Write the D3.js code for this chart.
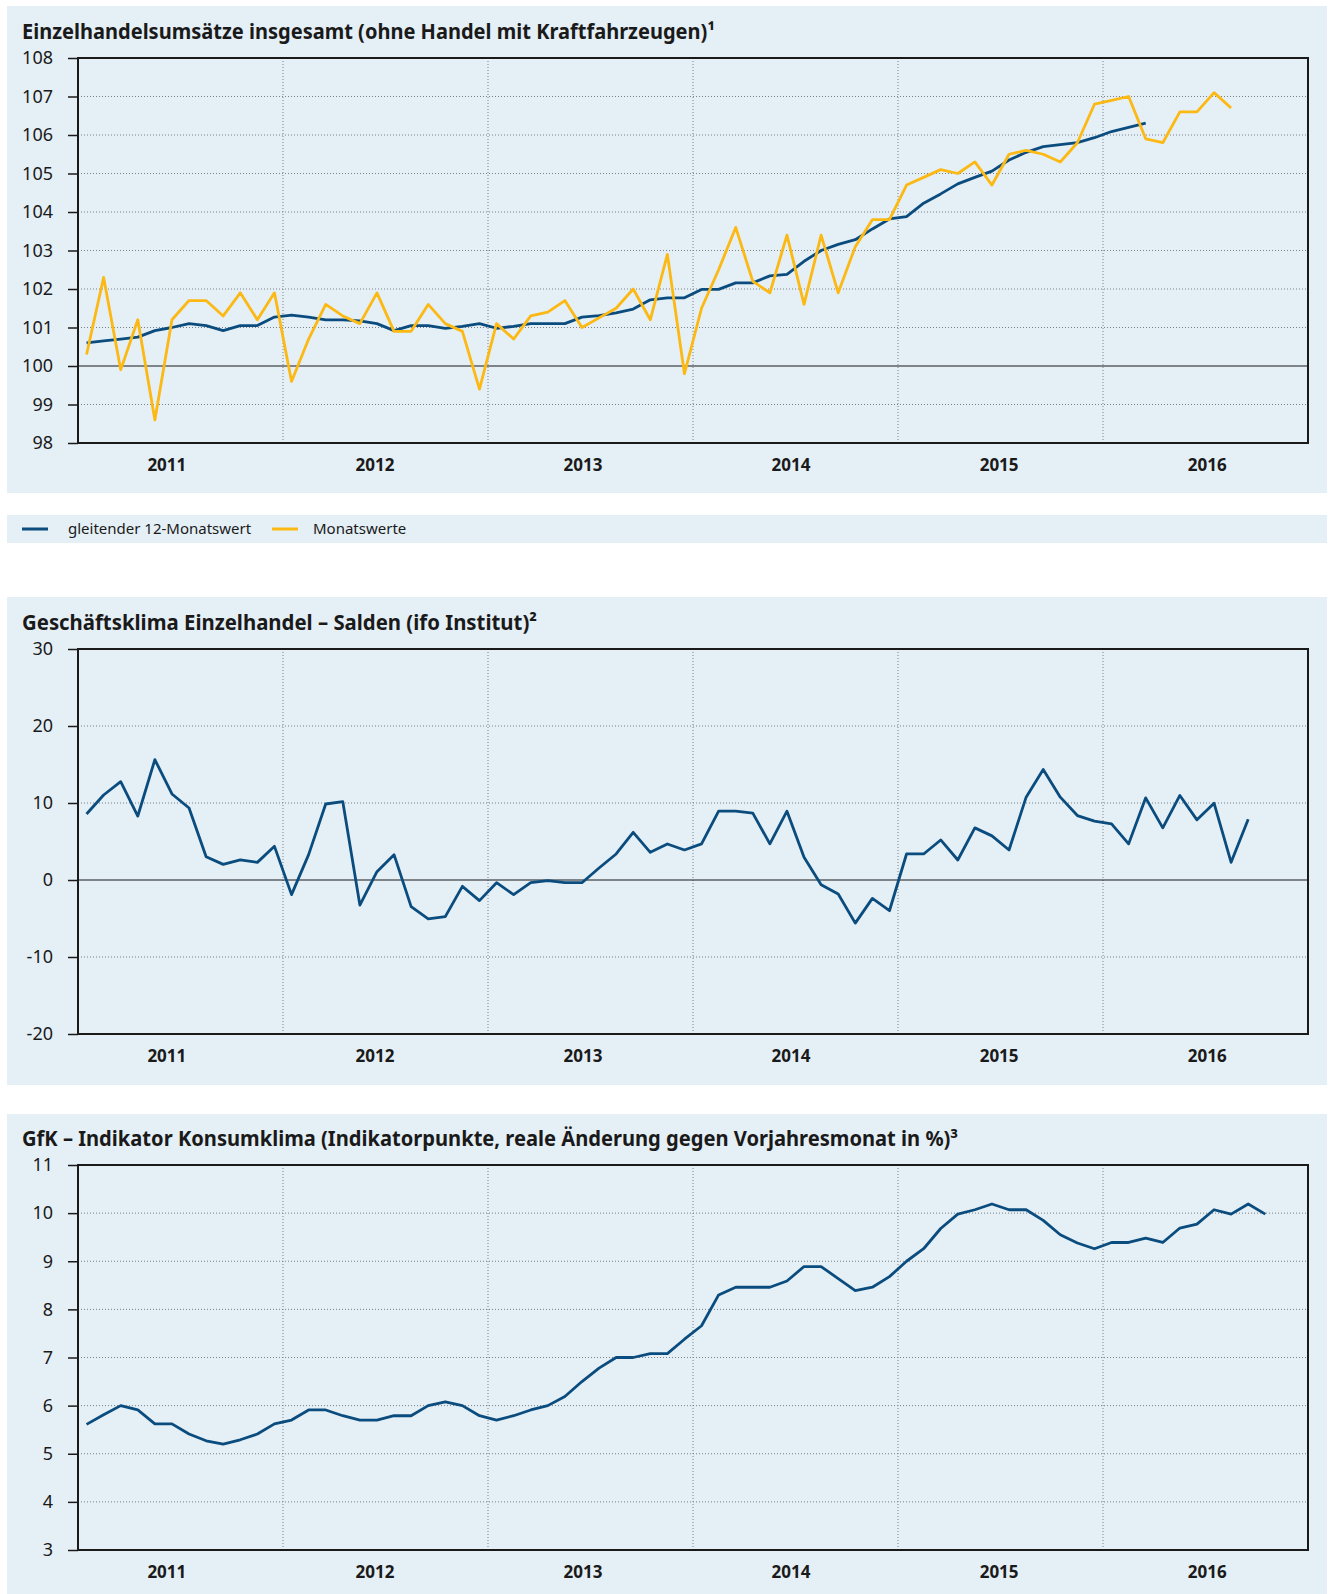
<!DOCTYPE html>
<html lang="de">
<head>
<meta charset="utf-8">
<title>Einzelhandel – Indikatoren</title>
<script src="https://cdn.jsdelivr.net/npm/d3@7"></script>
<style>
  body { margin: 0; background: #fff; }
  svg text { font-family: "Noto Sans", "Open Sans", sans-serif; fill: #1a1a1a; }
</style>
</head>
<body>
<svg id="chart" width="1334" height="1594"></svg>
<script>
// Jahre (x-Achse), je 12 Monate ab Januar 2011
const years = ['2011', '2012', '2013', '2014', '2015', '2016'];

// Einzelhandelsumsätze
const umsatzGleitend = [
  100.6, 100.65, 100.7, 100.75, 100.92, 101.0, 101.1, 101.05, 100.92, 101.05, 101.05, 101.27,
  101.32, 101.27, 101.2, 101.2, 101.17, 101.1, 100.92, 101.05, 101.05, 100.98, 101.03, 101.1,
  100.98, 101.03, 101.1, 101.1, 101.1, 101.27, 101.31, 101.38, 101.48, 101.72, 101.77, 101.77,
  101.99, 101.99, 102.16, 102.16, 102.34, 102.38, 102.72, 103.0, 103.16, 103.28, 103.56, 103.82,
  103.88, 104.23, 104.47, 104.73, 104.9, 105.06, 105.35, 105.55, 105.7, 105.75, 105.8, 105.93,
  106.09, 106.2, 106.31
];
const umsatzMonat = [
  100.3, 102.3, 99.9, 101.2, 98.6, 101.2, 101.7, 101.7, 101.3, 101.9, 101.2, 101.9,
  99.6, 100.7, 101.6, 101.3, 101.1, 101.9, 100.9, 100.9, 101.6, 101.1, 100.9, 99.4,
  101.1, 100.7, 101.3, 101.4, 101.7, 101.0, 101.25, 101.5, 102.0, 101.2, 102.9, 99.8,
  101.5, 102.5, 103.6, 102.2, 101.9, 103.4, 101.6, 103.4, 101.9, 103.1, 103.8, 103.8,
  104.7, 104.9, 105.1, 105.0, 105.3, 104.7, 105.5, 105.6, 105.5, 105.3, 105.8, 106.8,
  106.9, 107.0, 105.9, 105.8, 106.6, 106.6, 107.1, 106.7
];

// ifo Geschäftsklima Einzelhandel (Salden)
const ifoSalden = [
  8.57, 11.04, 12.77, 8.31, 15.63, 11.17, 9.35, 3.03, 2.03, 2.6, 2.29, 4.37,
  -1.9, 3.29, 9.87, 10.17, -3.25, 1.08, 3.29, -3.46, -5.06, -4.76, -0.82, -2.68,
  -0.35, -1.9, -0.35, -0.09, -0.35, -0.35, 1.56, 3.38, 6.19, 3.59, 4.68, 3.9,
  4.69, 8.94, 8.94, 8.68, 4.69, 8.94, 2.95, -0.61, -1.82, -5.6, -2.39, -3.99,
  3.38, 3.38, 5.2, 2.6, 6.77, 5.73, 3.9, 10.76, 14.36, 10.76, 8.37, 7.64,
  7.29, 4.69, 10.67, 6.77, 10.98, 7.81, 9.98, 2.3, 7.9
];

// GfK Konsumklima
const gfkKlima = [
  5.61, 5.81, 6.0, 5.91, 5.62, 5.62, 5.41, 5.27, 5.2, 5.29, 5.41, 5.62,
  5.7, 5.91, 5.91, 5.79, 5.7, 5.7, 5.79, 5.79, 6.0, 6.08, 6.0, 5.79,
  5.7, 5.79, 5.91, 6.0, 6.19, 6.5, 6.78, 7.0, 7.0, 7.08, 7.08, 7.38,
  7.66, 8.3, 8.46, 8.46, 8.46, 8.59, 8.89, 8.89, 8.64, 8.39, 8.46, 8.68,
  9.0, 9.26, 9.68, 9.98, 10.07, 10.19, 10.07, 10.07, 9.85, 9.55, 9.38, 9.26,
  9.39, 9.39, 9.48, 9.39, 9.69, 9.77, 10.07, 9.98, 10.19, 9.98
];

// Achsenbeschriftungen
const ticksUmsatz = [98, 99, 100, 101, 102, 103, 104, 105, 106, 107, 108];
const ticksIfo = [-20, -10, 0, 10, 20, 30];
const ticksGfk = [3, 4, 5, 6, 7, 8, 9, 10, 11];

const legendItems = ['gleitender 12-Monatswert', 'Monatswerte'];

const BLUE = '#0b4c7e', YELLOW = '#fcb813', BG = '#e5eff6', INK = '#1a1a1a';

const svg = d3.select('#chart');
const nMonths = years.length * 12;
const x = d3.scaleLinear().domain([0, nMonths]).range([78, 1308]);
// Jahreslabels sitzen im Original leicht links der Jahresmitte
const xYear = d3.scaleLinear().domain([0, years.length - 1]).range([x(5.2), x(66.1)]);

function drawPanel(p) {
  const y = d3.scaleLinear().domain(d3.extent(p.ticks)).range([p.bottom, p.top]);
  const lo = p.ticks[0], hi = p.ticks[p.ticks.length - 1];

  svg.append('rect')
    .attr('x', 7).attr('y', p.bgTop).attr('width', 1320).attr('height', p.bgBottom - p.bgTop)
    .attr('fill', BG);

  // Titel
  const t = svg.append('text')
    .attr('x', 22).attr('y', p.top - 19)
    .attr('font-size', 20.5).attr('font-weight', 700)
    .text(p.title);
  if (t.node().getComputedTextLength() > p.titleWidth) {
    t.attr('textLength', p.titleWidth).attr('lengthAdjust', 'spacingAndGlyphs');
  }

  const g = svg.append('g');

  // Gitter (gepunktet)
  g.selectAll('.hg').data(p.ticks.filter(v => v !== lo && v !== hi && v !== p.base)).join('line')
    .attr('x1', x(0)).attr('x2', x(nMonths))
    .attr('y1', d => y(d)).attr('y2', d => y(d))
    .attr('stroke', '#7a7f85').attr('stroke-width', 1).attr('stroke-dasharray', '1,2');
  g.selectAll('.vg').data(d3.range(12, nMonths, 12)).join('line')
    .attr('x1', d => x(d)).attr('x2', d => x(d))
    .attr('y1', p.top).attr('y2', p.bottom)
    .attr('stroke', '#7a7f85').attr('stroke-width', 1).attr('stroke-dasharray', '1,2');

  // Basislinie
  if (p.base !== undefined) {
    g.append('line')
      .attr('x1', x(0)).attr('x2', x(nMonths))
      .attr('y1', y(p.base)).attr('y2', y(p.base))
      .attr('stroke', INK).attr('stroke-width', 1.2);
  }

  // Linien
  const line = d3.line().x((d, i) => x(i + 0.5)).y(d => y(d));
  p.series.forEach(s => {
    g.append('path').datum(s.data)
      .attr('d', line)
      .attr('fill', 'none').attr('stroke', s.color)
      .attr('stroke-width', 2.8).attr('stroke-linejoin', 'round');
  });

  // y-Achse
  const ax = svg.append('g').attr('transform', `translate(${x(0)},0)`)
    .call(d3.axisLeft(y).tickValues(p.ticks).tickSize(10).tickPadding(15).tickFormat(d => String(d)));
  ax.select('.domain').remove();
  ax.selectAll('.tick line').attr('stroke', INK).attr('stroke-width', 1.5);
  ax.selectAll('.tick text').attr('font-size', 18);

  // Rahmen
  svg.append('rect')
    .attr('x', x(0)).attr('y', p.top)
    .attr('width', x(nMonths) - x(0)).attr('height', p.bottom - p.top)
    .attr('fill', 'none').attr('stroke', INK).attr('stroke-width', 2);

  // Jahre
  svg.append('g').selectAll('text').data(years).join('text')
    .attr('x', (d, i) => xYear(i)).attr('y', p.bottom + 28)
    .attr('text-anchor', 'middle').attr('font-size', 17).attr('font-weight', 700)
    .text(d => d);
}

drawPanel({
  bgTop: 6, bgBottom: 493, top: 58, bottom: 443,
  title: 'Einzelhandelsumsätze insgesamt (ohne Handel mit Kraftfahrzeugen)¹', titleWidth: 693,
  ticks: ticksUmsatz, base: 100,
  series: [{ data: umsatzGleitend, color: BLUE }, { data: umsatzMonat, color: YELLOW }]
});

// Legende
svg.append('rect').attr('x', 7).attr('y', 515).attr('width', 1320).attr('height', 28).attr('fill', BG);
const lg = svg.append('g').selectAll('g').data(legendItems).join('g')
  .attr('transform', (d, i) => `translate(${i === 0 ? 22 : 272},529)`);
lg.append('line').attr('x1', 0).attr('x2', 26).attr('y1', 0).attr('y2', 0)
  .attr('stroke', (d, i) => i === 0 ? BLUE : YELLOW).attr('stroke-width', 3);
lg.append('text').attr('x', (d, i) => i === 0 ? 46 : 41).attr('y', 5).attr('font-size', 15).text(d => d);

drawPanel({
  bgTop: 597, bgBottom: 1085, top: 649, bottom: 1034,
  title: 'Geschäftsklima Einzelhandel – Salden (ifo Institut)²', titleWidth: 515,
  ticks: ticksIfo, base: 0,
  series: [{ data: ifoSalden, color: BLUE }]
});

drawPanel({
  bgTop: 1114, bgBottom: 1594, top: 1165, bottom: 1550,
  title: 'GfK – Indikator Konsumklima (Indikatorpunkte, reale Änderung gegen Vorjahresmonat in %)³', titleWidth: 936,
  ticks: ticksGfk,
  series: [{ data: gfkKlima, color: BLUE }]
});
</script>
</body>
</html>
